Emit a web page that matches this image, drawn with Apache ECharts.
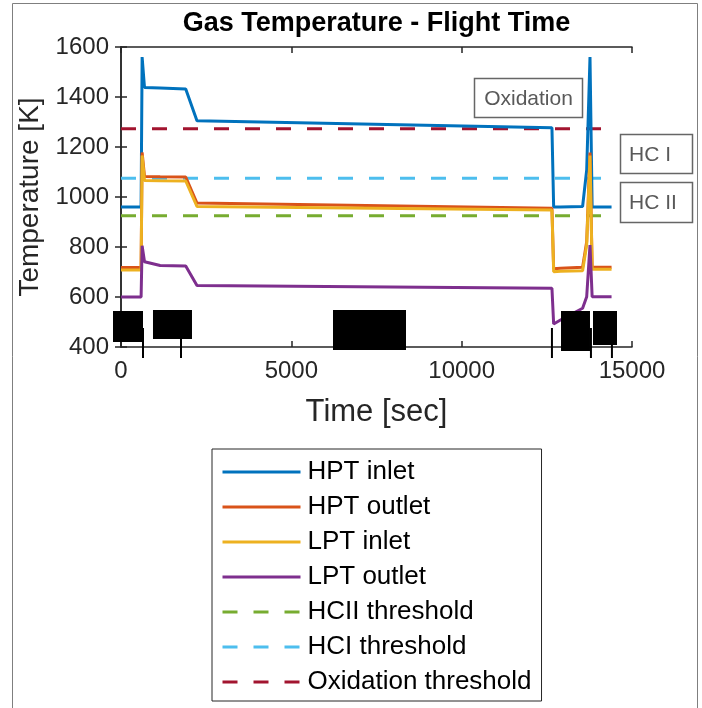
<!DOCTYPE html>
<html>
<head>
<meta charset="utf-8">
<script src="https://cdn.jsdelivr.net/npm/echarts@6/dist/echarts.min.js"></script>
<style>
  html, body { margin: 0; padding: 0; background: #fff; }
  #chart { width: 702px; height: 708px; }
</style>
</head>
<body>
<div id="chart"></div>
<script>
// Flight profile sample times [sec]
const time = [0, 590, 620, 690, 1150, 1900, 2230, 12650, 12700, 12900, 13550, 13670, 13767, 13830, 14400];

// Gas temperatures [K] along the flight
const hptInlet  = [960, 960, 1560, 1438, 1436, 1432, 1305, 1277, 960, 960, 962, 1108, 1560, 960, 960];
const hptOutlet = [718, 718, 1178, 1082, 1081, 1080, 976, 955, 713, 715, 719, 821, 1178, 719, 719];
const lptInlet  = [708, 708, 1166, 1066, 1065, 1064, 962, 948, 701, 703, 705, 808, 1166, 711, 711];
const lptOutlet = [600, 600, 805, 741, 726, 724, 646, 635, 492, 508, 555, 601, 808, 601, 601];

// Damage thresholds [K] and the time span they are drawn over
const hc2Threshold = 925;
const hc1Threshold = 1075;
const oxidationThreshold = 1273;
const thresholdSpan = [0, 14400];

// Phase boundary markers under the time axis [sec]
const phaseMarks = [646, 1761, 12650, 13795, 14411];
const phaseMarkRange = [356, 476];

// Blacked-out phase tags: [t start, t end, T bottom, T top]
const phaseTags = [
  [-235, 646, 420, 544],
  [939, 2084, 432, 548],
  [6223, 8366, 388, 548],
  [12916, 13767, 384, 544],
  [13855, 14560, 408, 544]
];

// Axis settings
const xTicks = { min: 0, max: 15000, interval: 5000 };
const yTicks = { min: 400, max: 1600, interval: 200 };

const FONT = "'Liberation Sans', Arial, Helvetica, sans-serif";
const AXIS_COLOR = '#262626';

const colors = {
  hptIn: '#0072BD', hptOut: '#D95319', lptIn: '#EDB120', lptOut: '#7E2F8E',
  hc2: '#77AC30', hc1: '#4DBEEE', ox: '#A2142F'
};

const pairs = vals => time.map((t, i) => [t, vals[i]]);
const flat = v => thresholdSpan.map(t => [t, v]);

function curve(name, vals, color) {
  return {
    name, type: 'line', data: pairs(vals), showSymbol: false, symbol: 'none',
    lineStyle: { color, width: 3 }, itemStyle: { color }, z: 3, animation: false
  };
}
function threshold(name, v, color) {
  return {
    name, type: 'line', data: flat(v), showSymbol: false, symbol: 'none',
    lineStyle: { color, width: 3, type: [15, 16] }, itemStyle: { color }, z: 2, animation: false
  };
}

const chart = echarts.init(document.getElementById('chart'), null, { renderer: 'canvas' });

const axisLine = { lineStyle: { color: AXIS_COLOR, width: 1.5 } };
const axisTick = { inside: true, length: 6, lineStyle: { color: AXIS_COLOR, width: 1.5 } };
const plain = v => String(v);

const names = ['HPT inlet', 'HPT outlet', 'LPT inlet', 'LPT outlet', 'HCII threshold', 'HCI threshold', 'Oxidation threshold'];

chart.setOption({
  backgroundColor: '#fff',
  animation: false,
  textStyle: { fontFamily: FONT },
  title: {
    text: 'Gas Temperature - Flight Time',
    left: 376.5, top: 10, textAlign: 'center', padding: 0,
    textStyle: { fontFamily: FONT, fontSize: 27, fontWeight: 'bold', color: '#000' }
  },
  grid: { left: 121, right: 70, top: 47, bottom: 361, containLabel: false },
  xAxis: [
    {
      type: 'value', position: 'bottom', ...xTicks,
      name: 'Time [sec]', nameLocation: 'middle', nameGap: 50,
      nameTextStyle: { fontFamily: FONT, fontSize: 31, color: AXIS_COLOR },
      axisLine, axisTick,
      axisLabel: { fontFamily: FONT, fontSize: 24, color: AXIS_COLOR, margin: 12, formatter: plain },
      splitLine: { show: false }
    },
    {
      type: 'value', position: 'top', ...xTicks,
      axisLine, axisTick, axisLabel: { show: false }, splitLine: { show: false }
    }
  ],
  yAxis: [
    {
      type: 'value', position: 'left', ...yTicks,
      name: 'Temperature [K]', nameLocation: 'middle', nameGap: 67, nameRotate: 90,
      nameTextStyle: { fontFamily: FONT, fontSize: 28, color: AXIS_COLOR },
      axisLine, axisTick,
      axisLabel: { fontFamily: FONT, fontSize: 24, color: AXIS_COLOR, margin: 12, formatter: plain },
      splitLine: { show: false }
    },
    {
      type: 'value', position: 'right', ...yTicks,
      axisLine, axisTick, axisLabel: { show: false }, splitLine: { show: false }
    }
  ],
  legend: {
    data: names, orient: 'vertical', left: 212, top: 449,
    padding: [10, 10, 6, 9], itemWidth: 78, itemHeight: 24, itemGap: 9,
    borderColor: AXIS_COLOR, borderWidth: 1, backgroundColor: '#fff',
    lineStyle: { width: 3 },
    itemStyle: { opacity: 0 },
    textStyle: { fontFamily: FONT, fontSize: 26, color: '#000', padding: [0, 0, 0, 2] },
    selectedMode: false
  },
  series: [
    curve('HPT inlet', hptInlet, colors.hptIn),
    curve('HPT outlet', hptOutlet, colors.hptOut),
    curve('LPT inlet', lptInlet, colors.lptIn),
    curve('LPT outlet', lptOutlet, colors.lptOut),
    threshold('HCII threshold', hc2Threshold, colors.hc2),
    threshold('HCI threshold', hc1Threshold, colors.hc1),
    threshold('Oxidation threshold', oxidationThreshold, colors.ox),
    {
      name: 'phase marks', type: 'custom', z: 5, clip: false,
      data: phaseMarks.map(t => [t, phaseMarkRange[0], phaseMarkRange[1]]),
      encode: { x: 0, y: [1, 2] },
      renderItem(params, api) {
        const a = api.coord([api.value(0), api.value(1)]);
        const b = api.coord([api.value(0), api.value(2)]);
        return { type: 'line', shape: { x1: a[0], y1: a[1], x2: b[0], y2: b[1] },
                 style: { stroke: '#000', lineWidth: 2 } };
      }
    },
    {
      name: 'phase tags', type: 'custom', z: 6, clip: false,
      data: phaseTags,
      encode: { x: [0, 1], y: [2, 3] },
      renderItem(params, api) {
        const p0 = api.coord([api.value(0), api.value(3)]);
        const p1 = api.coord([api.value(1), api.value(2)]);
        return { type: 'rect', shape: { x: p0[0], y: p0[1], width: p1[0] - p0[0], height: p1[1] - p0[1] },
                 style: { fill: '#000' } };
      }
    }
  ],
  graphic: [
    // figure frame
    { type: 'rect', shape: { x: 12.5, y: 3.5, width: 685, height: 720 },
      style: { fill: 'none', stroke: '#7f7f7f', lineWidth: 1 }, silent: true, z: 0 },
    // region labels
    { type: 'rect', shape: { x: 474.5, y: 78.5, width: 108, height: 39 },
      style: { fill: '#fff', stroke: '#666', lineWidth: 1.5 }, z: 10 },
    { type: 'text', x: 528.5, y: 99, z: 11,
      style: { text: 'Oxidation', font: '21px ' + FONT, fill: '#595959', align: 'center', verticalAlign: 'middle' } },
    { type: 'rect', shape: { x: 620.5, y: 134.5, width: 72, height: 39 },
      style: { fill: '#fff', stroke: '#666', lineWidth: 1.5 }, z: 10 },
    { type: 'text', x: 629, y: 155, z: 11,
      style: { text: 'HC I', font: '21px ' + FONT, fill: '#595959', align: 'left', verticalAlign: 'middle' } },
    { type: 'rect', shape: { x: 620.5, y: 182.5, width: 72, height: 40 },
      style: { fill: '#fff', stroke: '#666', lineWidth: 1.5 }, z: 10 },
    { type: 'text', x: 629, y: 203, z: 11,
      style: { text: 'HC II', font: '21px ' + FONT, fill: '#595959', align: 'left', verticalAlign: 'middle' } }
  ]
});
</script>
</body>
</html>
